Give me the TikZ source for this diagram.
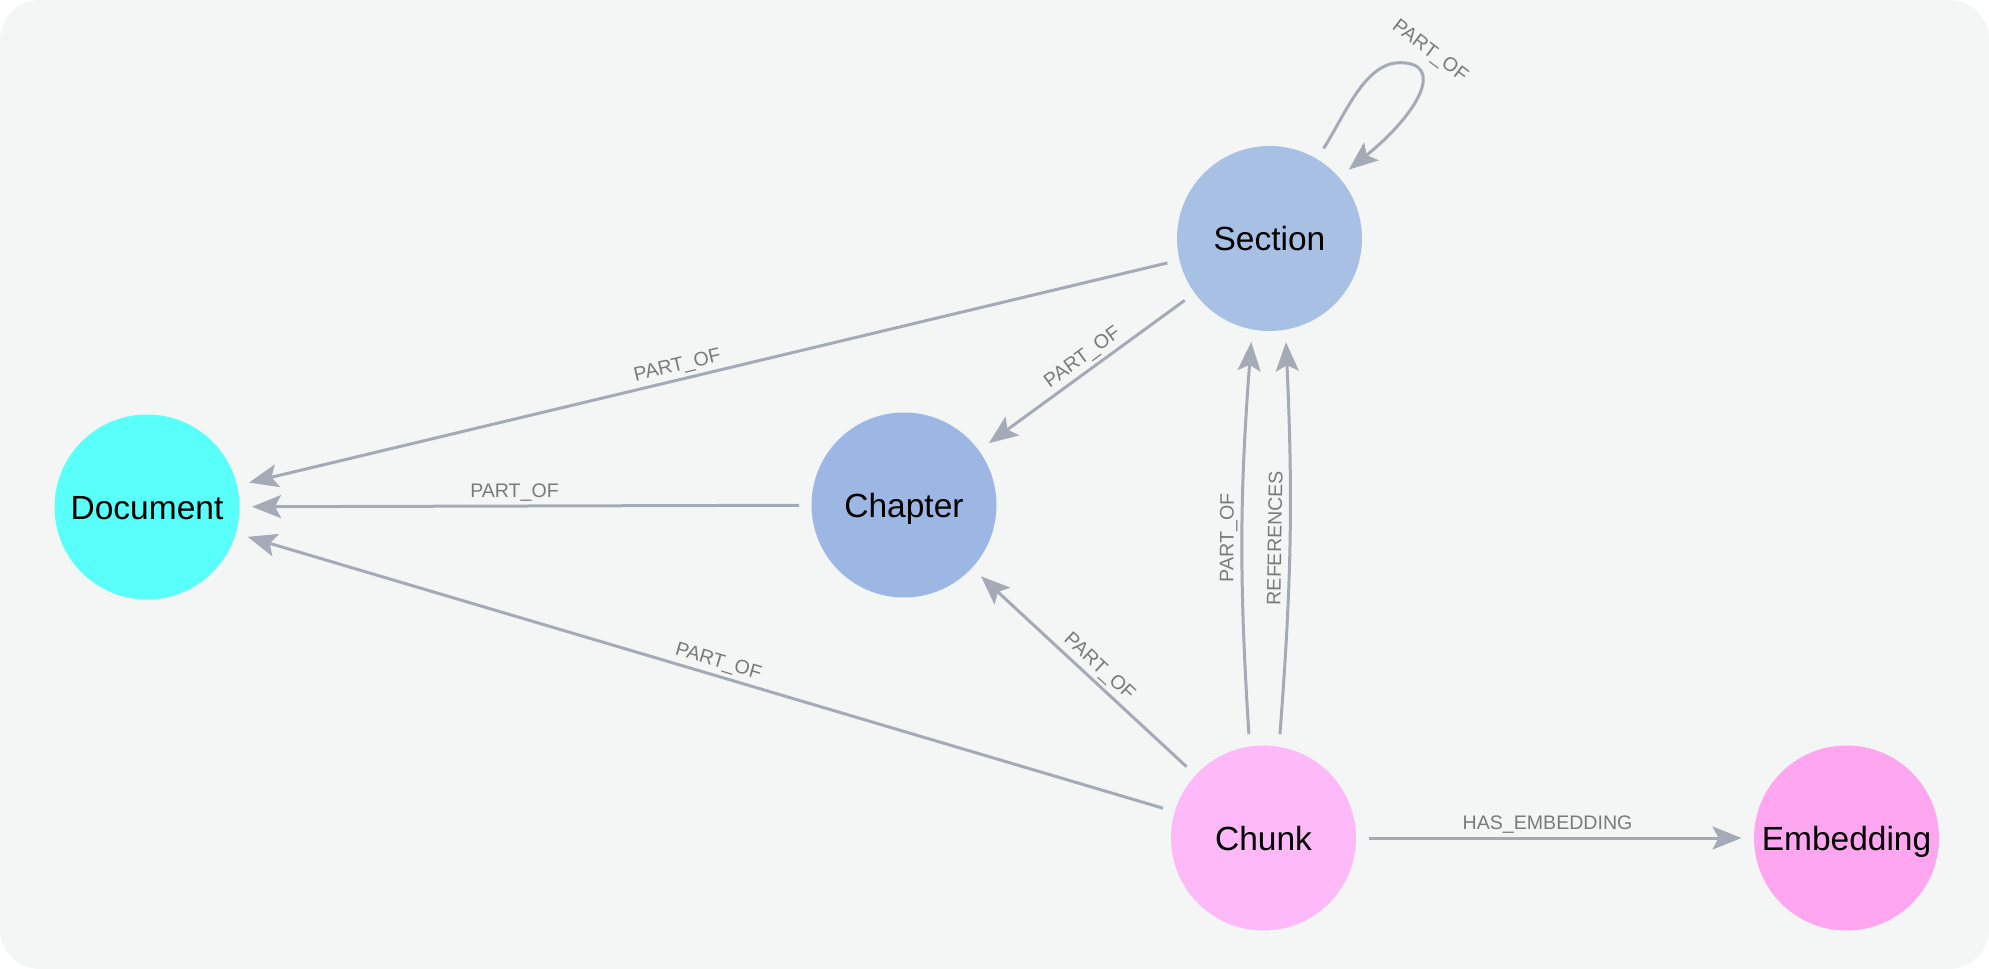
\documentclass[tikz,border=0pt]{standalone}
\usepackage{fontspec}
\setmainfont{Liberation Sans}
\usetikzlibrary{arrows.meta,calc}
\definecolor{bgc}{HTML}{F4F6F6}
\definecolor{edgec}{HTML}{A5ABB6}
\definecolor{lblc}{HTML}{7A7A7A}
\definecolor{docc}{HTML}{59FFF9}
\definecolor{secc}{HTML}{A7C0E4}
\definecolor{chapc}{HTML}{9DB7E4}
\definecolor{chunkc}{HTML}{FDB9F8}
\definecolor{embc}{HTML}{FFA6F0}
\begin{document}
\begin{tikzpicture}[x=1pt,y=-1pt,
  ent/.style={circle, minimum size=185pt, inner sep=0pt, outer sep=12.5pt,
    font=\fontsize{33.5}{38}\selectfont, text=black, text height=24pt, text depth=0pt},
  rel/.style={draw=edgec, line width=3pt, -{Stealth[length=29pt,width=23pt,inset=6pt]}},
  lbltxt/.style={font=\fontsize{19.6}{23}\selectfont, text=lblc, text height=14pt, text depth=0pt},
  lbl/.style={lbltxt, sloped, above, inner sep=7pt}
]
\useasboundingbox (0,0) rectangle (1989,969);
\fill[white] (0,0) rectangle (1989,969);
\fill[bgc, rounded corners=40pt] (0,0) rectangle (1989,969);

\node[ent, fill=docc]   (D) at (147,507)    {Document};
\node[ent, fill=chapc]  (C) at (904,505)    {Chapter};
\node[ent, fill=secc]   (S) at (1269.5,238.5) {Section};
\node[ent, fill=chunkc] (K) at (1263.5,838) {Chunk};
\node[ent, fill=embc]   (E) at (1846.5,838) {Embedding};

\draw[rel] (S) -- node[lbl, pos=0.53] {PART\_OF} (D);
\draw[rel] (C) -- node[lbl, pos=0.52] {PART\_OF} (D);
\draw[rel] (K) -- node[lbl, pos=0.49] {PART\_OF} (D);
\draw[rel] (S) -- node[lbl, pos=0.48] {PART\_OF} (C);
\draw[rel] (K) -- node[lbl, pos=0.47] {PART\_OF} (C);
\draw[rel] (K) -- node[lbl, pos=0.48] {HAS\_EMBEDDING} (E);
\draw[rel] (K.98) to[bend left=4] node[lbl] {PART\_OF} (S.260);
\draw[rel] (K.81) to[bend right=3.5] node[lbl] {REFERENCES} (S.279);

\coordinate (looptop) at (1400,62.7);
\draw[rel] (S.59) .. controls (1346,113) and (1365,62.7) .. (looptop)
  .. controls (1445,62.7) and (1420,112) .. (S.41);
\node[lbltxt, rotate=-37] (loopl) at (1431,50) {PART\_OF};
\end{tikzpicture}
\end{document}
